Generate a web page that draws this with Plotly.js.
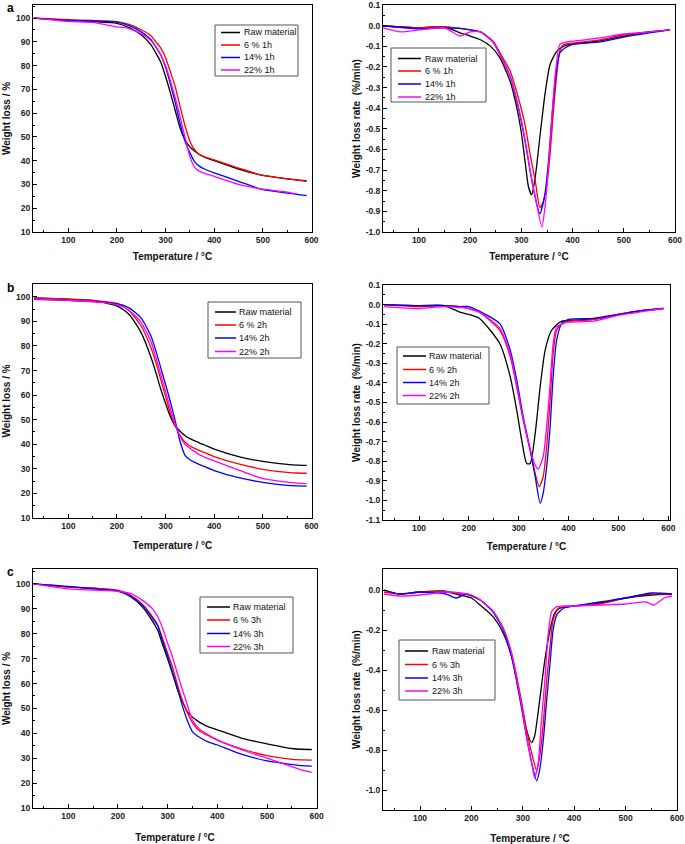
<!DOCTYPE html>
<html>
<head>
<meta charset="utf-8">
<script src="https://cdn.plot.ly/plotly-3.0.1.min.js"></script>
<style>
  body { margin: 0; background: #fff; }
  #chart { width: 685px; height: 844px; }
</style>
</head>
<body>
<div id="chart"></div>
<script>
// ===== DATA =====

const names1h = ['Raw material', '6 % 1h', '14% 1h', '22% 1h'];
const names2h = ['Raw material', '6 % 2h', '14% 2h', '22% 2h'];
const names3h = ['Raw material', '6 % 3h', '14% 3h', '22% 3h'];
const lineColors = ['#000000', '#ff0000', '#0000ff', '#ff00ff'];
const panelLetters = ['a', 'b', 'c'];

// TGA curves (weight loss %), shared temperature grid
const tgaTemp = [30, 100, 150, 200, 225, 250, 270, 280, 290, 300, 310, 320, 330, 340, 350, 360, 370, 380, 400, 450, 500, 550, 570, 590];

const tgaRaw1h  = [100, 99, 98.5, 97.8, 96, 93, 88.7, 85.3, 81.5, 75.4, 68.5, 61, 53.6, 48.8, 45.8, 44, 42.6, 41.5, 40, 36.5, 33.8, 32.4, 31.9, 31.5];
const tga6pc1h  = [100, 99.3, 99, 98.5, 97.3, 95.1, 92.6, 90, 87.5, 83.3, 77.3, 71, 62.7, 54.7, 48.2, 44.5, 42.5, 41.6, 40.3, 36.9, 33.8, 32.4, 31.8, 31.3];
const tga14pc1h = [100, 99, 98.8, 98.3, 96.8, 94.2, 90.9, 87.8, 84.6, 79.3, 72.2, 64.4, 55.6, 48.2, 43.3, 39.5, 37.6, 36.5, 34.9, 31.3, 27.8, 26.4, 25.8, 25.3];
const tga22pc1h = [100, 98.6, 98.2, 96.3, 95.6, 93.4, 90.5, 88, 84.5, 79.9, 73.6, 66.4, 58.2, 49.9, 41.7, 37.1, 35.5, 34.7, 33.4, 30, 28, 26.8, 26, null];

const tgaRaw2h  = [99.5, 99, 98.5, 96.3, 92.8, 85.3, 75.4, 69.2, 62.5, 56.6, 51.2, 47.4, 45.3, 43.5, 42.3, 41.4, 40.5, 39.7, 38, 35, 33, 31.8, 31.5, 31.4];
const tga6pc2h  = [99.5, 99, 98.5, 97.3, 94.3, 88, 79.3, 73.4, 66.5, 59.5, 52.5, 47.4, 43.5, 40.8, 39.3, 38.3, 37.4, 36.6, 35, 32, 29.8, 28.6, 28.3, 28.2];
const tga14pc2h = [99, 98.5, 98, 97.2, 95.5, 91.3, 84, 78, 71.2, 64.3, 57.2, 49.4, 41, 35.5, 33.7, 32.6, 31.7, 30.9, 29.3, 26.4, 24.5, 23.3, 23.1, 23];
const tga22pc2h = [99.2, 98.5, 98, 96.8, 94.5, 89.5, 81.8, 75.3, 68.5, 61.5, 54.5, 48.2, 43, 40, 38.4, 37, 35.7, 34.8, 33.2, 29.5, 26, 24.6, 24.2, 24];

const tgaRaw3h  = [100, 98.8, 98.3, 97.1, 95, 90.6, 84.9, 81.4, 75.6, 69.8, 63.8, 57.4, 52.6, 48.5, 46.5, 45, 43.8, 42.8, 41.4, 38, 35.8, 33.9, 33.6, 33.5];
const tga6pc3h  = [100, 98.7, 98.3, 97.5, 95.5, 91.7, 86.7, 83.4, 78, 72.2, 66.5, 59.2, 53, 48.2, 44.3, 41.7, 40.2, 39.3, 37.3, 33.7, 31, 29.5, 29.3, 29.2];
const tga14pc3h = [100, 99, 98, 97.2, 95, 91.3, 86.1, 83.3, 76.8, 71, 64.4, 57.8, 50.8, 44.9, 40.6, 38.9, 37.7, 36.7, 35.3, 31.5, 28.9, 27.5, 27, 26.8];
const tga22pc3h = [100, 98, 97.5, 97, 96.2, 93.3, 89.9, 86.8, 82.2, 76.2, 70.5, 63.8, 57.3, 51.2, 45.3, 42.6, 40.8, 39.6, 37.4, 33.3, 30, 26.6, 25.2, 24.3];

// DTG curves (weight loss rate %/min), each with its own temperatures
const dtgRaw1hT  = [30, 100, 150, 180, 200, 220, 240, 258, 278, 291, 300, 307, 314, 320, 327, 336, 346, 356, 369, 382, 400, 450, 500, 550, 590];
const dtgRaw1h   = [0, -0.01, -0.005, -0.035, -0.05, -0.068, -0.1, -0.156, -0.269, -0.397, -0.52, -0.655, -0.783, -0.82, -0.735, -0.542, -0.333, -0.188, -0.124, -0.1, -0.088, -0.075, -0.05, -0.03, -0.02];
const dtg6pc1hT  = [30, 100, 150, 180, 200, 220, 245, 260, 278, 294, 307, 317, 327, 336, 342, 349, 356, 362, 369, 375, 382, 400, 450, 500, 550, 590];
const dtg6pc1h   = [0, -0.01, -0.005, -0.013, -0.02, -0.03, -0.076, -0.14, -0.22, -0.349, -0.478, -0.622, -0.751, -0.88, -0.86, -0.783, -0.622, -0.43, -0.237, -0.124, -0.092, -0.085, -0.07, -0.045, -0.03, -0.02];
const dtg14pc1hT = [30, 100, 150, 180, 200, 220, 245, 260, 278, 294, 307, 317, 327, 336, 346, 353, 359, 366, 375, 385, 400, 450, 500, 550, 590];
const dtg14pc1h  = [0, -0.015, -0.01, -0.013, -0.02, -0.03, -0.08, -0.15, -0.245, -0.397, -0.558, -0.703, -0.831, -0.912, -0.815, -0.655, -0.462, -0.269, -0.132, -0.108, -0.09, -0.08, -0.055, -0.035, -0.02];
const dtg22pc1hT = [30, 65, 100, 150, 180, 200, 220, 245, 260, 278, 294, 307, 317, 327, 340, 346, 353, 359, 366, 375, 385, 400, 450, 500, 550, 590];
const dtg22pc1h  = [-0.01, -0.03, -0.02, -0.01, -0.05, -0.03, -0.03, -0.08, -0.15, -0.245, -0.39, -0.55, -0.7, -0.83, -0.976, -0.88, -0.68, -0.46, -0.24, -0.09, -0.08, -0.075, -0.06, -0.04, -0.03, -0.02];

const dtgRaw2hT  = [30, 100, 150, 182, 200, 222, 262, 283, 296, 306, 316, 323, 333, 343, 353, 366, 383, 400, 450, 500, 550, 590];
const dtgRaw2h   = [0, -0.005, -0.005, -0.038, -0.05, -0.072, -0.199, -0.369, -0.539, -0.692, -0.811, -0.811, -0.658, -0.42, -0.233, -0.131, -0.089, -0.08, -0.075, -0.05, -0.03, -0.02];
const dtg6pc2hT  = [30, 100, 150, 182, 200, 222, 262, 283, 296, 309, 323, 333, 341, 349, 356, 363, 369, 376, 389, 400, 450, 500, 550, 590];
const dtg6pc2h   = [0, -0.01, -0.005, -0.01, -0.02, -0.04, -0.131, -0.267, -0.42, -0.59, -0.743, -0.862, -0.93, -0.879, -0.726, -0.488, -0.25, -0.131, -0.089, -0.085, -0.075, -0.05, -0.03, -0.02];
const dtg14pc2hT = [30, 100, 150, 182, 200, 222, 262, 283, 296, 309, 323, 333, 343, 349, 356, 363, 369, 376, 386, 400, 450, 500, 550, 590];
const dtg14pc2h  = [0, -0.005, -0.005, -0.01, -0.01, -0.035, -0.097, -0.233, -0.386, -0.573, -0.743, -0.879, -1.015, -0.964, -0.828, -0.624, -0.369, -0.182, -0.097, -0.075, -0.07, -0.05, -0.03, -0.02];
const dtg22pc2hT = [30, 100, 150, 182, 200, 222, 262, 283, 296, 309, 323, 333, 339, 349, 356, 363, 369, 376, 389, 400, 450, 500, 550, 590];
const dtg22pc2h  = [-0.01, -0.02, -0.01, -0.015, -0.02, -0.04, -0.12, -0.255, -0.41, -0.585, -0.74, -0.82, -0.84, -0.777, -0.624, -0.403, -0.199, -0.114, -0.097, -0.09, -0.085, -0.055, -0.035, -0.02];

const dtgRaw3hT  = [30, 60, 100, 145, 178, 200, 217, 242, 262, 278, 288, 298, 307, 317, 323, 333, 343, 353, 362, 372, 400, 450, 500, 550, 590];
const dtgRaw3h   = [0, -0.02, -0.01, -0.005, -0.025, -0.04, -0.075, -0.133, -0.216, -0.332, -0.448, -0.58, -0.697, -0.763, -0.73, -0.547, -0.348, -0.199, -0.116, -0.091, -0.08, -0.065, -0.04, -0.025, -0.02];
const dtg6pc3hT  = [30, 60, 100, 150, 178, 200, 217, 242, 262, 278, 288, 298, 307, 317, 327, 333, 340, 346, 353, 359, 369, 380, 400, 450, 500, 550, 590];
const dtg6pc3h   = [-0.01, -0.02, -0.01, -0.01, -0.017, -0.03, -0.05, -0.108, -0.191, -0.315, -0.431, -0.564, -0.697, -0.813, -0.904, -0.829, -0.663, -0.464, -0.282, -0.149, -0.091, -0.085, -0.08, -0.07, -0.04, -0.02, -0.02];
const dtg14pc3hT = [30, 60, 100, 150, 170, 190, 217, 242, 262, 278, 288, 298, 307, 317, 327, 333, 340, 346, 353, 359, 366, 380, 400, 450, 500, 550, 590];
const dtg14pc3h  = [0, -0.02, -0.01, -0.02, -0.04, -0.02, -0.05, -0.11, -0.199, -0.332, -0.456, -0.597, -0.73, -0.862, -0.954, -0.896, -0.746, -0.564, -0.365, -0.199, -0.124, -0.09, -0.08, -0.06, -0.04, -0.015, -0.02];
const dtg22pc3hT = [30, 60, 100, 150, 178, 200, 217, 242, 262, 278, 288, 298, 307, 317, 323, 330, 336, 343, 349, 356, 366, 380, 400, 450, 500, 540, 555, 575, 590];
const dtg22pc3h  = [-0.02, -0.03, -0.025, -0.01, -0.015, -0.025, -0.05, -0.105, -0.191, -0.315, -0.44, -0.58, -0.73, -0.86, -0.94, -0.862, -0.663, -0.448, -0.232, -0.108, -0.083, -0.08, -0.08, -0.075, -0.07, -0.06, -0.075, -0.04, -0.03];

// tick labels
const tempTicks = [100, 200, 300, 400, 500, 600];
const weightTicks = [10, 20, 30, 40, 50, 60, 70, 80, 90, 100];
const rateTicksA = [0.1, 0.0, -0.1, -0.2, -0.3, -0.4, -0.5, -0.6, -0.7, -0.8, -0.9, -1.0];
const rateTicksB = [0.1, 0.0, -0.1, -0.2, -0.3, -0.4, -0.5, -0.6, -0.7, -0.8, -0.9, -1.0, -1.1];
const rateTicksC = [0.0, -0.2, -0.4, -0.6, -0.8, -1.0];

// ===== LAYOUT HELPERS =====

const W = 685, H = 844;
const FONT = 'Liberation Sans, Arial, sans-serif';
const px = v => v / W;
const py = v => 1 - v / H;

function fmtTick(v) {
    return v.toFixed(1); // plain hyphen, like the original
}

function baseAxis() {
    return {
        showline: true, linecolor: '#000', linewidth: 1, mirror: true,
        ticks: 'inside', ticklen: 4, tickwidth: 1, tickcolor: '#000',
        showgrid: false, zeroline: false, ticklabeloverflow: 'allow',
        tickfont: { family: FONT, size: 8.5, color: '#222', weight: 'bold' },
        title: { font: { family: FONT, size: 10, color: '#111', weight: 'bold' } },
        minor: { ticks: 'inside', ticklen: 2, tickcolor: '#000' },
    };
}

function tempAxis(domain, range, anchor, standoff) {
    const ax = baseAxis();
    Object.assign(ax, { domain, range, anchor, tickmode: 'array', tickvals: tempTicks });
    ax.minor.tickmode = 'linear'; ax.minor.tick0 = 0; ax.minor.dtick = 50;
    ax.title.text = 'Temperature / °C';
    ax.title.standoff = standoff;
    return ax;
}

function weightAxis(domain, range, anchor) {
    const ax = baseAxis();
    Object.assign(ax, { domain, range, anchor, tickmode: 'array', tickvals: weightTicks });
    ax.minor.tickmode = 'linear'; ax.minor.tick0 = 0; ax.minor.dtick = 5;
    ax.title.text = 'Weight loss / %';
    ax.title.standoff = 3;
    return ax;
}

function rateAxis(domain, range, anchor, ticks, minorStep) {
    const ax = baseAxis();
    Object.assign(ax, { domain, range, anchor, tickmode: 'array',
        tickvals: ticks, ticktext: ticks.map(fmtTick) });
    ax.minor.tickmode = 'linear'; ax.minor.tick0 = 0; ax.minor.dtick = minorStep;
    ax.title.text = 'Weight loss rate  (%/min)';
    ax.title.standoff = 3;
    return ax;
}

// ===== TRACES =====

const traces = [];

function addSeries(xa, ya, temps, values) {
    values.forEach((v, i) => {
        traces.push({
            x: temps[i], y: v, xaxis: xa, yaxis: ya,
            mode: 'lines', showlegend: false, hoverinfo: 'skip',
            line: { color: lineColors[i], width: 1.3, shape: 'spline', smoothing: 0.6 },
        });
    });
}

addSeries('x', 'y', [tgaTemp, tgaTemp, tgaTemp, tgaTemp], [tgaRaw1h, tga6pc1h, tga14pc1h, tga22pc1h]);
addSeries('x2', 'y2', [dtgRaw1hT, dtg6pc1hT, dtg14pc1hT, dtg22pc1hT], [dtgRaw1h, dtg6pc1h, dtg14pc1h, dtg22pc1h]);
addSeries('x3', 'y3', [tgaTemp, tgaTemp, tgaTemp, tgaTemp], [tgaRaw2h, tga6pc2h, tga14pc2h, tga22pc2h]);
addSeries('x4', 'y4', [dtgRaw2hT, dtg6pc2hT, dtg14pc2hT, dtg22pc2hT], [dtgRaw2h, dtg6pc2h, dtg14pc2h, dtg22pc2h]);
addSeries('x5', 'y5', [tgaTemp, tgaTemp, tgaTemp, tgaTemp], [tgaRaw3h, tga6pc3h, tga14pc3h, tga22pc3h]);
addSeries('x6', 'y6', [dtgRaw3hT, dtg6pc3hT, dtg14pc3hT, dtg22pc3hT], [dtgRaw3h, dtg6pc3h, dtg14pc3h, dtg22pc3h]);

// ===== LEGENDS (boxed, drawn in page pixels) =====

const shapes = [];
const annotations = [];

function addLegend(box, lineX, textX, rows, names) {
    shapes.push({ type: 'rect', xref: 'paper', yref: 'paper',
        x0: px(box[0]), x1: px(box[2]), y0: py(box[3]), y1: py(box[1]),
        line: { color: '#555', width: 1 }, fillcolor: 'rgba(255,255,255,0)' });
    names.forEach((name, i) => {
        shapes.push({ type: 'line', xref: 'paper', yref: 'paper',
            x0: px(lineX[0]), x1: px(lineX[1]), y0: py(rows[i]), y1: py(rows[i]),
            line: { color: lineColors[i], width: 1.5 } });
        annotations.push({ xref: 'paper', yref: 'paper', x: px(textX), y: py(rows[i]),
            xanchor: 'left', yanchor: 'middle', align: 'left', borderpad: 0,
            showarrow: false, text: name,
            font: { family: FONT, size: 9, color: '#111' } });
    });
}

addLegend([215, 25, 298, 76], [221, 240], 243, [32.5, 45, 57.5, 70], names1h);
addLegend([391, 48, 486, 102], [398, 421], 424, [58.5, 71, 84, 97], names1h);
addLegend([208, 302, 301, 358], [215, 236], 238, [312, 325, 338, 351.5], names2h);
addLegend([397, 347, 489, 404], [403, 426], 428, [356, 369.5, 382.5, 395.5], names2h);
addLegend([200, 597, 293, 653], [207, 230], 232, [607, 620, 633.5, 646.5], names3h);
addLegend([399, 640, 495, 700], [405, 428], 431, [651, 664.5, 678, 691], names3h);

// panel letters
[[5, 8], [5, 288], [5, 572]].forEach((p, i) => {
    annotations.push({ xref: 'paper', yref: 'paper', x: px(p[0]), y: py(p[1]),
        xanchor: 'left', yanchor: 'middle', showarrow: false, text: panelLetters[i],
        font: { family: FONT, size: 12, color: '#000', weight: 'bold' } });
});

// ===== LAYOUT =====

const layout = {
    width: W, height: H,
    margin: { l: 0, r: 0, t: 0, b: 0 },
    paper_bgcolor: '#fff', plot_bgcolor: '#fff',
    showlegend: false,
    xaxis:  tempAxis([px(33), px(312)], [27.5, 601], 'y', 8),
    yaxis:  weightAxis([py(232), py(5)], [10, 105.5], 'x'),
    xaxis2: tempAxis([px(383), px(675)], [29.7, 600], 'y2', 8),
    yaxis2: rateAxis([py(232), py(5)], [-1.0, 0.1005], 'x2', rateTicksA, 0.05),
    xaxis3: tempAxis([px(33), px(312)], [27.5, 601], 'y3', 11),
    yaxis3: weightAxis([py(518), py(284)], [10, 105.2], 'x3'),
    xaxis4: tempAxis([px(383), px(670)], [27.8, 603.4], 'y4', 10),
    yaxis4: rateAxis([py(520), py(285)], [-1.1, 0.1], 'x4', rateTicksB, 0.05),
    xaxis5: tempAxis([px(33), px(317)], [29, 600.6], 'y5', 13),
    yaxis5: weightAxis([py(808), py(569)], [10, 106], 'x5'),
    xaxis6: tempAxis([px(383), px(677)], [28, 600], 'y6', 12),
    yaxis6: rateAxis([py(810), py(569)], [-1.1, 0.105], 'x6', rateTicksC, 0.1),
    shapes, annotations,
};

Plotly.newPlot('chart', traces, layout, { displayModeBar: false, staticPlot: true });
</script>
</body>
</html>
